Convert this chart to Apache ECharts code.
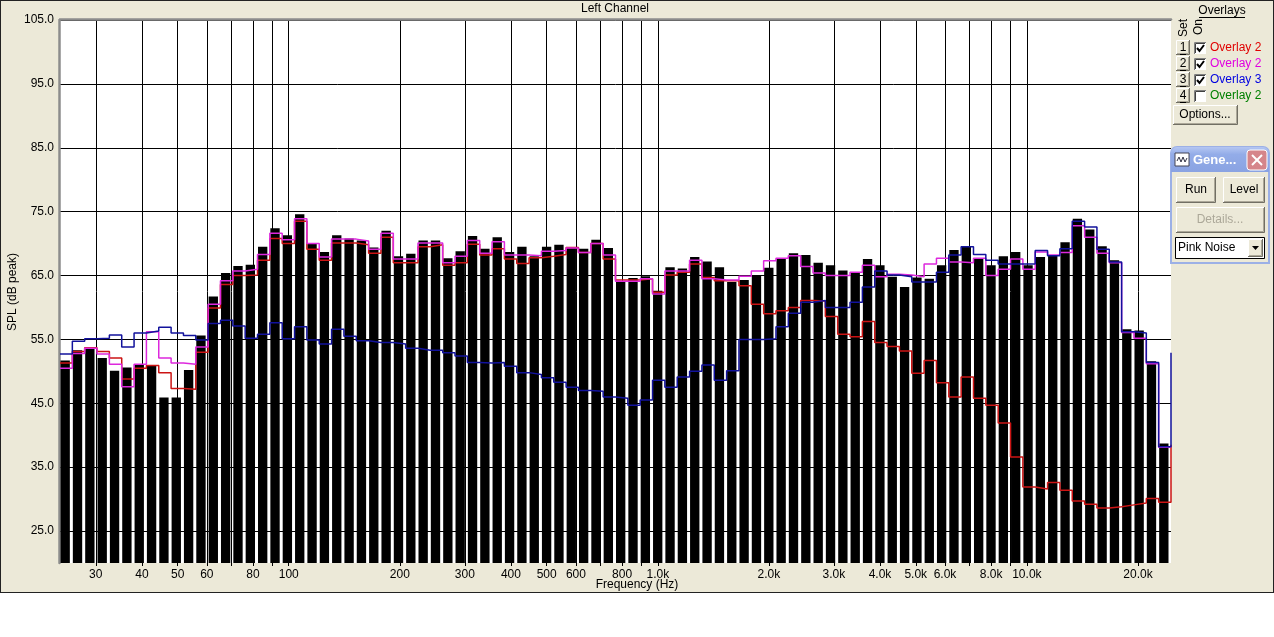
<!DOCTYPE html>
<html>
<head>
<meta charset="utf-8">
<script src="https://cdn.jsdelivr.net/npm/echarts@6/dist/echarts.min.js"></script>
<style>
    html, body { margin: 0; padding: 0; background: #fff; }
    #panel { position: absolute; left: 0; top: 0; width: 1272px; height: 591px; background: #ece9d8; border: 1px solid #222; }
    #app { position: absolute; left: 0; top: 0; width: 1274px; height: 637px; }
</style>
</head>
<body>
<div id="panel"></div>
<div id="app"></div>
<script>
//bands: 1/9 octave from 24 Hz
var bandStartHz = 24
var bandsPerOctave = 9

//measured level (black bars)
var barLevels = [
    51.7, 53.3, 53.7, 52.1, 50.1, 50.6, 51.1, 51.0, 45.9, 45.9,
    50.2, 55.6, 61.7, 65.4, 66.5, 66.7, 69.5, 72.4, 71.3, 74.6,
    70.0, 68.7, 71.3, 70.8, 70.5, 69.4, 72.0, 68.0, 68.4, 70.5,
    70.5, 67.7, 68.8, 71.2, 69.2, 71.0, 68.7, 69.5, 68.0, 69.5,
    69.8, 69.4, 69.2, 70.6, 69.3, 64.1, 64.6, 64.9, 62.6, 66.3,
    66.1, 67.9, 67.2, 66.3, 64.0, 64.3, 65.1, 66.2, 67.6, 68.5,
    68.2, 67.0, 66.6, 65.8, 65.5, 67.6, 66.6, 64.8, 63.2, 64.7,
    64.5, 66.6, 69.0, 69.5, 67.7, 66.6, 68.0, 68.7, 66.6, 67.9,
    68.2, 70.2, 73.9, 72.2, 69.6, 67.4, 56.6, 56.4, 51.6, 38.7
]

//overlay 1 (red)
var overlayRed = [
    51.3, 53.1, 53.7, 53.1, 52.1, 48.8, 50.5, 50.9, 49.8, 47.3,
    47.2, 53.0, 59.9, 63.6, 65.0, 65.1, 67.4, 70.8, 70.0, 73.5,
    69.1, 67.4, 70.1, 70.1, 69.8, 68.5, 71.0, 67.0, 67.0, 69.5,
    69.8, 66.6, 67.0, 69.9, 68.2, 69.2, 67.6, 66.9, 67.8, 68.0,
    68.3, 69.4, 68.6, 70.0, 67.6, 64.3, 64.3, 64.5, 62.4, 65.1,
    65.5, 66.8, 64.7, 64.2, 64.2, 63.4, 60.5, 59.0, 59.5, 60.0,
    61.1, 61.0, 58.6, 55.8, 55.4, 57.8, 54.5, 53.9, 53.2, 49.7,
    51.7, 48.2, 46.0, 49.1, 45.8, 44.7, 41.9, 36.6, 31.9, 31.6,
    32.6, 31.4, 29.7, 29.2, 28.6, 28.8, 29.1, 29.4, 30.1, 29.5
]

//overlay 2 (magenta)
var overlayMagenta = [
    50.5, 52.8, 53.6, 52.7, 51.1, 47.6, 51.1, 56.2, 52.1, 51.3,
    51.1, 53.8, 60.5, 64.2, 65.7, 66.0, 68.3, 71.6, 70.6, 73.9,
    70.0, 67.9, 70.7, 70.7, 70.4, 69.1, 71.6, 67.6, 67.6, 70.1,
    70.1, 67.0, 68.0, 70.5, 68.5, 70.3, 68.2, 68.2, 68.1, 68.8,
    68.9, 69.3, 68.6, 70.0, 68.2, 64.1, 64.1, 64.5, 62.1, 65.7,
    65.7, 67.4, 64.5, 64.3, 64.3, 64.9, 65.7, 67.3, 67.7, 68.1,
    66.4, 65.4, 65.0, 65.0, 65.5, 66.6, 64.8, 65.2, 65.1, 64.8,
    66.8, 67.7, 67.1, 67.0, 67.7, 65.0, 66.0, 67.6, 66.0, 68.7,
    68.2, 68.6, 72.8, 71.0, 68.5, 67.0, 56.1, 55.2, 51.2, 38.1
]

//overlay 3 (blue)
var overlayBlue = [
    52.7, 54.7, 55.1, 55.2, 55.7, 53.8, 56.0, 56.3, 56.9, 56.0,
    55.6, 54.9, 57.5, 58.0, 57.1, 55.2, 55.8, 57.6, 55.1, 57.0,
    54.9, 54.3, 56.6, 55.5, 54.8, 54.5, 54.5, 54.3, 53.6, 53.3,
    53.3, 52.9, 52.4, 51.4, 51.3, 51.4, 50.8, 49.8, 49.5, 49.0,
    48.3, 47.5, 47.0, 46.9, 46.0, 45.8, 44.7, 45.5, 48.6, 47.5,
    49.1, 50.0, 51.0, 48.6, 50.1, 55.0, 55.0, 55.1, 57.0, 59.1,
    60.8, 61.1, 60.0, 60.0, 60.8, 63.2, 65.7, 65.1, 64.8, 64.0,
    64.0, 65.5, 68.2, 69.5, 68.3, 67.4, 66.8, 66.8, 66.8, 68.9,
    68.1, 69.2, 73.5, 72.6, 69.1, 67.1, 56.2, 56.0, 51.4, 38.2
]
var overlayRedEnd = 38.5
var overlayBlueEnd = 52.9

//axis ticks
var gridFreqs = [30, 40, 50, 60, 70, 80, 90, 100, 200, 300, 400, 500, 600, 700, 800, 900,
    1000, 2000, 3000, 4000, 5000, 6000, 7000, 8000, 9000, 10000, 20000]
var labelFreqs = [30, 40, 50, 60, 80, 100, 200, 300, 400, 500, 600, 800,
    1000, 2000, 3000, 4000, 5000, 6000, 8000, 10000, 20000]
var levelTicks = [25, 35, 45, 55, 65, 75, 85, 95, 105]
var levelMin = 20
var levelMax = 105

var lg = Math.log10
var edgeHz = (i) => bandStartHz * Math.pow(2, i / bandsPerOctave)
var xMin = lg(edgeHz(0))
var xMax = lg(edgeHz(barLevels.length))

var barData = barLevels.map((v, i) => [lg(edgeHz(i)), v, lg(edgeHz(i + 1))])

var stepData = (levels, last) => {
    var pts = levels.map((v, i) => [lg(edgeHz(i)), v])
    pts.push([lg(edgeHz(levels.length)), last === undefined ? levels[levels.length - 1] : last])
    return pts
}

var freqLabel = (v) => {
    var f = Math.round(Math.pow(10, v))
    return f < 1000 ? String(f) : (f / 1000).toFixed(1) + 'k'
}

var font = '"Liberation Sans", Arial, sans-serif'
var face = '#ece9d8'

//right side widgets
var txt = (text, x, y, color, extra) => Object.assign({
    type: 'text', x: x, y: y, z: 10,
    style: {
        text: text, fill: color || '#000', font: '12px ' + font,
        textAlign: 'left', align: 'left', textVerticalAlign: 'middle', verticalAlign: 'middle'
    }
}, extra || {})

var ctxt = (text, x, y, color, size, weight) => ({
    type: 'text', x: x, y: y, z: 10,
    style: {
        text: text, fill: color || '#000', font: (weight || 'normal') + ' ' + (size || 12) + 'px ' + font,
        textAlign: 'center', align: 'center', textVerticalAlign: 'middle', verticalAlign: 'middle'
    }
})

var line = (pts, color, w) => ({
    type: 'polyline', z: 10, shape: {points: pts}, style: {stroke: color, lineWidth: w || 1, fill: null}
})

var raised = (x, y, w, h) => [
    {type: 'rect', z: 9, shape: {x: x, y: y, width: w, height: h}, style: {fill: face}},
    line([[x + 0.5, y + h], [x + 0.5, y + 0.5], [x + w, y + 0.5]], '#fff'),
    line([[x + w - 0.5, y], [x + w - 0.5, y + h - 0.5], [x, y + h - 0.5]], '#716f64'),
    line([[x + w - 1.5, y + 1], [x + w - 1.5, y + h - 1.5], [x + 1, y + h - 1.5]], '#aca899')
]

var overlayRows = [
    {n: '1', on: true, text: 'Overlay 2', color: '#e00000'},
    {n: '2', on: true, text: 'Overlay 2', color: '#e000e0'},
    {n: '3', on: true, text: 'Overlay 3', color: '#0000e0'},
    {n: '4', on: false, text: 'Overlay 2', color: '#008000'}
]

var widgets = []
widgets.push(ctxt('Overlays', 1222, 11))
widgets.push(line([[1199, 17.5], [1245, 17.5]], '#000'))
widgets.push(Object.assign(ctxt('Set', 0, 0), {x: 1184, y: 28, rotation: Math.PI / 2}))
widgets.push(Object.assign(ctxt('On', 0, 0), {x: 1199, y: 27, rotation: Math.PI / 2}))

overlayRows.forEach((r, k) => {
    var cy = 48 + k * 16
    raised(1176, cy - 8, 14, 15).forEach(e => widgets.push(e))
    widgets.push(ctxt(r.n, 1183, cy))
    widgets.push(line([[1180, cy + 6.5], [1186, cy + 6.5]], '#000'))
    widgets.push({type: 'rect', z: 9, shape: {x: 1194, y: cy - 6, width: 12, height: 12}, style: {fill: '#fff'}})
    widgets.push(line([[1194.5, cy + 6], [1194.5, cy - 5.5], [1206, cy - 5.5]], '#808080'))
    widgets.push(line([[1195.5, cy + 5], [1195.5, cy - 4.5], [1205, cy - 4.5]], '#404040'))
    if (r.on) {
        widgets.push(line([[1197, cy], [1199.5, cy + 3], [1204, cy - 3]], '#000', 2))
    }
    widgets.push(txt(r.text, 1210, cy, r.color))
})

raised(1173, 105, 65, 20).forEach(e => widgets.push(e))
widgets.push(ctxt('Options...', 1205, 115))

//generator window
widgets.push({type: 'rect', z: 8, shape: {x: 1171, y: 147, width: 98, height: 116, r: [6, 6, 0, 0]},
    style: {fill: face, stroke: '#9cb0e6', lineWidth: 2}})
widgets.push({type: 'rect', z: 9, shape: {x: 1171, y: 147, width: 98, height: 25, r: [6, 6, 0, 0]},
    style: {fill: new echarts.graphic.LinearGradient(0, 0, 0, 1, [
        {offset: 0, color: '#b4c6f2'}, {offset: 0.3, color: '#93ace8'}, {offset: 1, color: '#8aa3e2'}
    ])}})
widgets.push({type: 'rect', z: 10, shape: {x: 1175, y: 153, width: 14, height: 13}, style: {fill: '#fff', stroke: '#445'}})
widgets.push(line([[1177, 161], [1179, 157], [1181, 162], [1183, 157], [1185, 162], [1187, 158]], '#334', 1))
widgets.push(txt('Gene...', 1193, 160, '#fff', {style: {
    text: 'Gene...', fill: '#fff', font: 'bold 13px ' + font,
    textAlign: 'left', align: 'left', textVerticalAlign: 'middle', verticalAlign: 'middle'
}}))
widgets.push({type: 'rect', z: 10, shape: {x: 1247, y: 150, width: 20, height: 20, r: 3},
    style: {fill: '#d5858a', stroke: '#fff', lineWidth: 1}})
widgets.push(line([[1252, 155], [1262, 165]], '#fff', 2))
widgets.push(line([[1262, 155], [1252, 165]], '#fff', 2))

raised(1176, 177, 40, 26).forEach(e => widgets.push(e))
widgets.push(ctxt('Run', 1196, 190))
raised(1223, 177, 42, 26).forEach(e => widgets.push(e))
widgets.push(ctxt('Level', 1244, 190))
raised(1176, 207, 89, 26).forEach(e => widgets.push(e))
widgets.push(ctxt('Details...', 1220, 220, '#aca899'))

widgets.push({type: 'rect', z: 9, shape: {x: 1175.5, y: 237.5, width: 89, height: 21}, style: {fill: '#fff', stroke: '#000', lineWidth: 1}})
widgets.push(txt('Pink Noise', 1178, 248))
raised(1248, 239, 15, 18).forEach(e => widgets.push(e))
widgets.push({type: 'polygon', z: 11, shape: {points: [[1252, 246], [1259, 246], [1255.5, 250]]}, style: {fill: '#000'}})

//chart labels
widgets.push(ctxt('Left Channel', 615, 9))
widgets.push(ctxt('Frequency (Hz)', 637, 585))
widgets.push(Object.assign(ctxt('SPL (dB peak)', 0, 0), {x: 13, y: 292, rotation: Math.PI / 2}))

var chart = echarts.init(document.getElementById('app'))

chart.setOption({
    animation: false,
    backgroundColor: 'transparent',
    textStyle: {fontFamily: font},
    grid: {
        left: 60, right: 103, top: 20, bottom: 74,
        show: true, backgroundColor: '#fff', borderWidth: 0
    },
    xAxis: [
        {
            type: 'value',
            min: xMin,
            max: xMax,
            axisLine: {show: false},
            axisTick: {show: true, length: 3, customValues: gridFreqs.map(lg), lineStyle: {color: '#000'}},
            axisLabel: {
                customValues: labelFreqs.map(lg),
                formatter: freqLabel,
                color: '#000', fontSize: 12, fontFamily: font, margin: 6
            },
            splitLine: {show: true, lineStyle: {color: '#000', width: 1}}
        },
        {
            type: 'value',
            position: 'top',
            min: xMin,
            max: xMax,
            offset: 1,
            axisLine: {show: true, lineStyle: {color: '#8c8c8c', width: 2.5}},
            axisTick: {show: false},
            axisLabel: {show: false},
            splitLine: {show: false}
        }
    ],
    yAxis: {
        type: 'value',
        min: levelMin,
        max: levelMax,
        offset: 1,
        axisLine: {show: true, lineStyle: {color: '#8c8c8c', width: 2.5}},
        axisTick: {show: false, customValues: levelTicks},
        axisLabel: {
            customValues: levelTicks,
            formatter: (v) => v.toFixed(1),
            color: '#000', fontSize: 12, fontFamily: font, margin: 5
        },
        splitLine: {show: true, lineStyle: {color: '#000', width: 1}}
    },
    graphic: {elements: widgets},
    series: [
        {
            type: 'custom',
            name: 'Level',
            xAxisIndex: 0,
            encode: {x: [0, 2], y: 1},
            data: barData,
            z: 2,
            renderItem: (params, api) => {
                var top = api.coord([api.value(0), api.value(1)])
                var bottom = api.coord([api.value(2), levelMin])
                return {
                    type: 'rect',
                    shape: {x: top[0] + 0.5, y: top[1], width: bottom[0] - top[0] - 3, height: bottom[1] - top[1]},
                    style: {fill: '#000'}
                }
            }
        },
        {
            type: 'line',
            name: 'Overlay 1',
            xAxisIndex: 0,
            step: 'end',
            symbol: 'none',
            z: 3,
            lineStyle: {color: '#cc1414', width: 1.5},
            data: stepData(overlayRed, overlayRedEnd)
        },
        {
            type: 'line',
            name: 'Overlay 2',
            xAxisIndex: 0,
            step: 'end',
            symbol: 'none',
            z: 4,
            lineStyle: {color: '#dd28dd', width: 1.5},
            data: stepData(overlayMagenta)
        },
        {
            type: 'line',
            name: 'Overlay 3',
            xAxisIndex: 0,
            step: 'end',
            symbol: 'none',
            z: 5,
            lineStyle: {color: '#12129c', width: 1.5},
            data: stepData(overlayBlue, overlayBlueEnd)
        }
    ]
})
</script>
</body>
</html>
